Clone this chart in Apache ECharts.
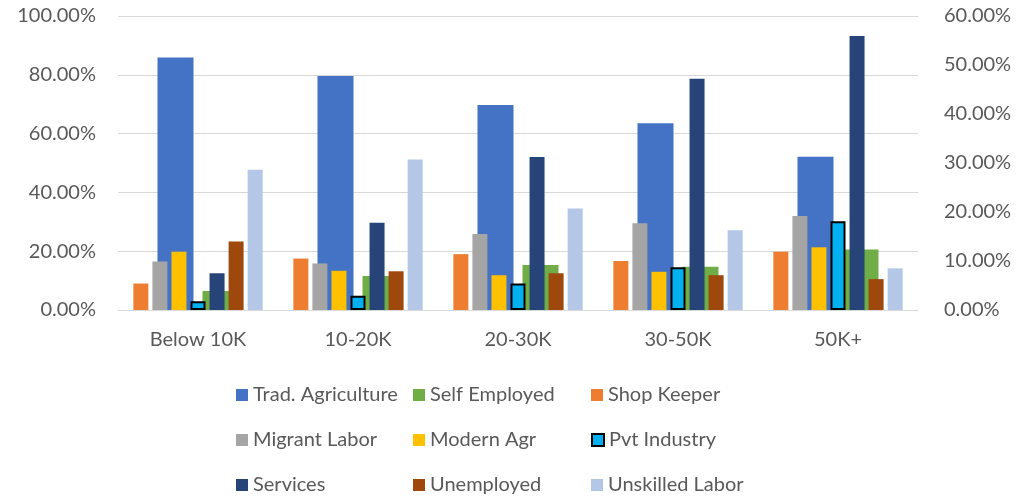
<!DOCTYPE html>
<html lang="en">
<head>
    <meta charset="UTF-8">
    <title>Income groups</title>
    <script src="https://cdn.jsdelivr.net/npm/echarts@6/dist/echarts.min.js"></script>
</head>
<body style="margin:0">
<div id="main" style="width: 1020px;height:496px;"></div>
<script type="text/javascript">
    // categories and values (in %)
    var categories = ['Below 10K', '10-20K', '20-30K', '30-50K', '50K+'];
    // primary axis (0-100%)
    var tradAgriculture = [85.9, 79.6, 69.7, 63.5, 52.1];
    var selfEmployed = [6.5, 11.6, 15.3, 14.7, 20.6];
    // secondary axis (0-60%)
    var shopKeeper = [5.4, 10.5, 11.4, 10.0, 11.9];
    var migrantLabor = [9.9, 9.5, 15.5, 17.7, 19.2];
    var modernAgr = [11.9, 8.0, 7.1, 7.8, 12.8];
    var pvtIndustry = [1.8, 2.9, 5.4, 8.7, 18.1];
    var services = [7.5, 17.8, 31.2, 47.2, 55.9];
    var unemployed = [14.0, 7.9, 7.5, 7.1, 6.3];
    var unskilledLabor = [28.6, 30.7, 20.7, 16.3, 8.5];

    var font = 'Lato';
    var textColor = '#595959';

    var myChart = echarts.init(document.getElementById('main'));

    function pct(v) {
        return v.toFixed(2) + '%';
    }

    function primary(name, data, color) {
        return {
            name: name, type: 'bar', data: data,
            xAxisIndex: 0, yAxisIndex: 0,
            barWidth: 36, barGap: '25%',
            itemStyle: {color: color}
        };
    }

    function secondary(name, data, color, border) {
        return {
            name: name, type: 'bar', data: data,
            xAxisIndex: 1, yAxisIndex: 1,
            barWidth: 15, barGap: '27%',
            itemStyle: border ? {color: color, borderColor: '#000', borderWidth: 2} : {color: color}
        };
    }

    // legend laid out as a 3x3 grid, one legend per cell
    var legendRows = [
        ['Trad. Agriculture', 'Self Employed', 'Shop Keeper'],
        ['Migrant Labor', 'Modern Agr', 'Pvt Industry'],
        ['Services', 'Unemployed', 'Unskilled Labor']
    ];
    var colLeft = [236, 413, 591];
    var rowTop = [385, 430, 475];
    var legends = [];
    legendRows.forEach(function (row, r) {
        row.forEach(function (name, c) {
            legends.push({
                left: colLeft[c], top: rowTop[r], padding: 0,
                icon: 'rect', itemWidth: 12, itemHeight: 12,
                textStyle: {color: textColor, fontFamily: font, fontSize: 20, lineHeight: 20},
                data: [name]
            });
        });
    });

    var option = {
        animation: false,
        grid: {left: 118, right: 102, top: 16, bottom: 186},
        legend: legends,
        xAxis: [
            {
                type: 'category', data: categories,
                axisLine: {lineStyle: {color: '#d9d9d9'}},
                axisTick: {show: false},
                axisLabel: {color: textColor, fontFamily: font, fontSize: 20, margin: 20}
            },
            {
                type: 'category', data: categories, show: false
            }
        ],
        yAxis: [
            {
                type: 'value', min: 0, max: 100, interval: 20,
                axisLine: {show: false}, axisTick: {show: false},
                splitLine: {lineStyle: {color: '#d9d9d9'}},
                axisLabel: {color: textColor, fontFamily: font, fontSize: 20, margin: 22, formatter: pct}
            },
            {
                type: 'value', min: 0, max: 60, interval: 10,
                axisLine: {show: false}, axisTick: {show: false},
                splitLine: {show: false},
                axisLabel: {color: textColor, fontFamily: font, fontSize: 20, margin: 26, formatter: pct}
            }
        ],
        series: [
            primary('Trad. Agriculture', tradAgriculture, '#4472C4'),
            primary('Self Employed', selfEmployed, '#70AD47'),
            secondary('Shop Keeper', shopKeeper, '#ED7D31'),
            secondary('Migrant Labor', migrantLabor, '#A5A5A5'),
            secondary('Modern Agr', modernAgr, '#FFC000'),
            secondary('Pvt Industry', pvtIndustry, '#00B0F0', true),
            secondary('Services', services, '#264478'),
            secondary('Unemployed', unemployed, '#9E480E'),
            secondary('Unskilled Labor', unskilledLabor, '#B4C7E7')
        ]
    };

    myChart.setOption(option);
</script>
</body>
</html>
